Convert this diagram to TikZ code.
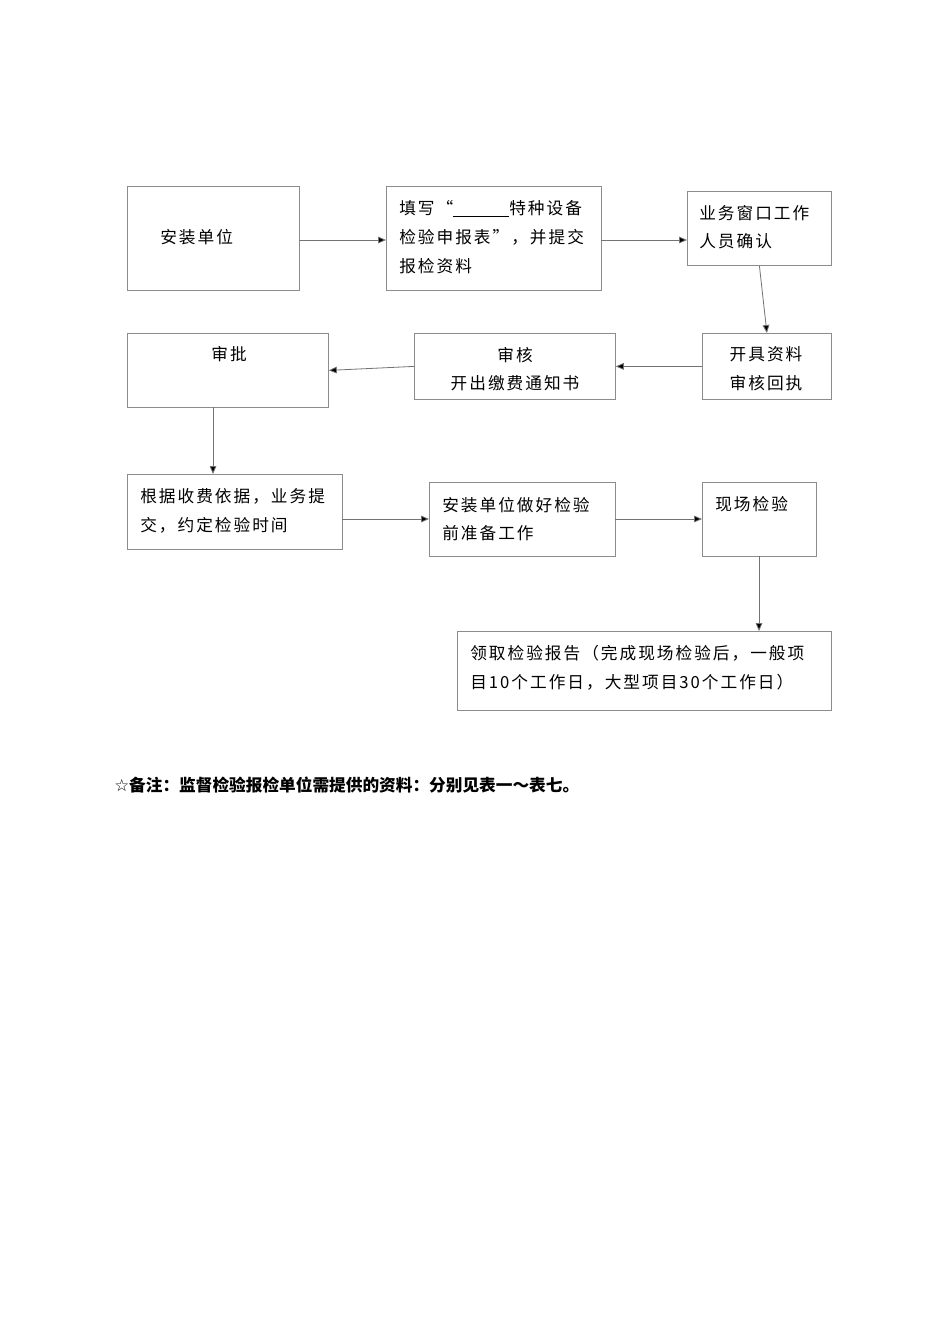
\documentclass[tikz,border=0pt]{standalone}
\usepackage{fontspec}
\setmainfont{Liberation Serif}
\newfontfamily\cjk[LetterSpace=12]{Noto Sans CJK SC}
\newfontfamily\cjkb[LetterSpace=0]{Noto Sans CJK SC}
\usetikzlibrary{arrows.meta}
\begin{document}
\begin{tikzpicture}[x=0.75pt,y=-0.75pt,
  box/.style={draw=black!45,line width=0.6pt},
  txt/.style={anchor=west,align=left,font=\fontsize{12.5pt}{21.5pt}\selectfont\cjk,inner sep=0pt},
  arr/.style={draw=black!55,line width=0.6pt,-{Triangle[length=6pt,width=5pt,fill=black]}}]
\useasboundingbox[fill=white] (0,0) rectangle (950,1344);
\node[box,minimum width=172*0.75pt,minimum height=104*0.75pt,anchor=north west] (b1) at (127,186) {};
\node[txt] at (160,237) {安装单位};
\node[box,minimum width=215*0.75pt,minimum height=104*0.75pt,anchor=north west] (b2) at (386,186) {};
\node[txt] at (399,237) {填写“\underline{\hspace{42pt}}特种设备\\检验申报表”，并提交\\报检资料};
\node[box,minimum width=144*0.75pt,minimum height=74*0.75pt,anchor=north west] (b3) at (687,191) {};
\node[txt] at (699,227) {业务窗口工作\\人员确认};
\node[box,minimum width=129*0.75pt,minimum height=66*0.75pt,anchor=north west] (b4) at (702,333) {};
\node[txt,anchor=center,align=center] at (766,369) {开具资料\\审核回执};
\node[box,minimum width=201*0.75pt,minimum height=66*0.75pt,anchor=north west] (b5) at (414,333) {};
\node[txt,anchor=center,align=center] at (515,369) {审核\\开出缴费通知书};
\node[box,minimum width=201*0.75pt,minimum height=74*0.75pt,anchor=north west] (b6) at (127,333) {};
\node[txt,anchor=center] at (229,354) {审批};
\node[box,minimum width=215*0.75pt,minimum height=75*0.75pt,anchor=north west] (b7) at (127,474) {};
\node[txt] at (140,511) {根据收费依据，业务提\\交，约定检验时间};
\node[box,minimum width=186*0.75pt,minimum height=74*0.75pt,anchor=north west] (b8) at (429,482) {};
\node[txt] at (442,519) {安装单位做好检验\\前准备工作};
\node[box,minimum width=114*0.75pt,minimum height=74*0.75pt,anchor=north west] (b9) at (702,482) {};
\node[txt] at (715,504) {现场检验};
\node[box,minimum width=374*0.75pt,minimum height=79*0.75pt,anchor=north west] (b10) at (457,631) {};
\node[txt] at (470,668) {领取检验报告（完成现场检验后，一般项\\目10个工作日，大型项目30个工作日）};
\draw[arr] (299,240) -- (386,240);
\draw[arr] (601,240) -- (687,240);
\draw[arr] (b3.south) -- (b4.north);
\draw[arr] (b4.west) -- (b5.east);
\draw[arr] (b5.west) -- (b6.east);
\draw[arr] (213,407) -- (213,474);
\draw[arr] (342,519) -- (429,519);
\draw[arr] (615,519) -- (702,519);
\draw[arr] (759,556) -- (759,631);
\node[anchor=west,inner sep=0pt,font=\fontsize{12.5pt}{15pt}\selectfont\cjkb\bfseries] (note) at (114,785) {{\fontspec{DejaVu Sans}☆}备注：监督检验报检单位需提供的资料：分别见表一～表七。};
\end{tikzpicture}
\end{document}
